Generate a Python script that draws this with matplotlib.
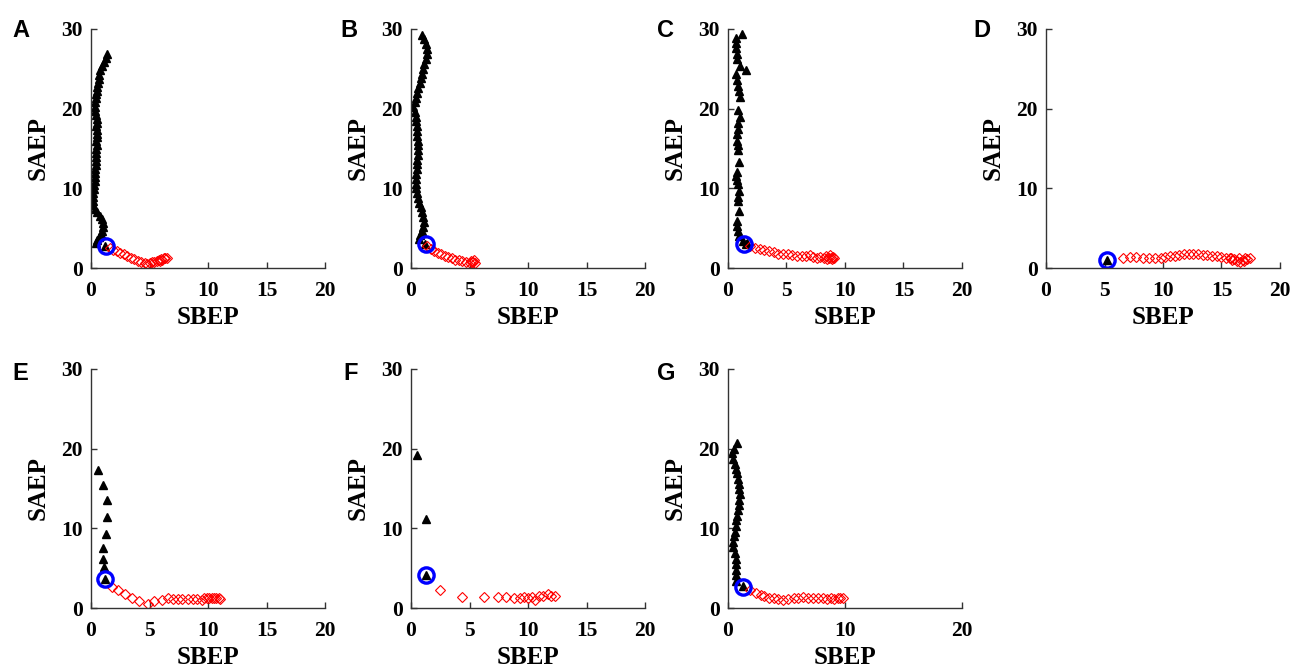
import matplotlib
matplotlib.use("Agg")
from matplotlib import pyplot as plt

# panel letters
labels = ["A", "B", "C", "D", "E", "F", "G"]

# black triangles (SBEP, SAEP)
A_bx = [1.4, 1.25, 1.1, 0.9, 0.8, 0.72, 0.65, 0.6, 0.55, 0.5, 0.45, 0.4, 0.35, 0.3, 0.32, 0.4, 0.48, 0.5, 0.45, 0.52, 0.55, 0.5, 0.45, 0.5, 0.45, 0.4, 0.42, 0.45, 0.4, 0.35, 0.33, 0.3, 0.3, 0.25, 0.22, 0.2, 0.15, 0.14, 0.2, 0.35, 0.5, 0.75, 0.92, 1.0, 1.05, 0.95, 0.85, 0.7, 0.55, 0.45, 1.2]
A_by = [26.8, 26.4, 25.9, 25.3, 24.8, 24.2, 23.7, 23.2, 22.7, 22.2, 21.8, 21.3, 20.8, 20.2, 19.7, 19.2, 18.7, 18.2, 17.8, 17.3, 16.8, 16.4, 15.9, 15.4, 14.9, 14.4, 13.9, 13.4, 12.9, 12.4, 11.9, 11.4, 10.9, 10.4, 9.9, 9.4, 8.9, 8.4, 7.9, 7.4, 7.0, 6.5, 6.1, 5.6, 5.1, 4.7, 4.3, 3.9, 3.5, 3.2, 2.8]
B_bx = [0.9, 1.1, 1.3, 1.4, 1.35, 1.25, 1.15, 1.05, 0.95, 0.85, 0.75, 0.6, 0.5, 0.4, 0.3, 0.2, 0.3, 0.4, 0.45, 0.5, 0.5, 0.55, 0.6, 0.6, 0.62, 0.6, 0.55, 0.55, 0.5, 0.45, 0.4, 0.4, 0.45, 0.55, 0.6, 0.7, 0.85, 0.95, 1.05, 1.1, 1.05, 0.95, 0.8, 0.7, 1.2]
B_by = [29.2, 28.7, 28.1, 27.5, 26.9, 26.2, 25.6, 25.0, 24.4, 23.8, 23.2, 22.6, 22.0, 21.4, 20.8, 20.2, 19.6, 19.0, 18.4, 17.8, 17.2, 16.6, 16.0, 15.4, 14.8, 14.2, 13.6, 13.0, 12.4, 11.8, 11.2, 10.6, 10.0, 9.4, 8.8, 8.2, 7.6, 7.0, 6.4, 5.8, 5.2, 4.6, 4.1, 3.6, 3.0]
C_bx = [1.23, 0.71, 0.66, 0.66, 0.77, 0.77, 1.0, 1.57, 0.71, 0.8, 0.86, 0.9, 1.0, 0.86, 1.0, 0.86, 0.86, 0.8, 0.77, 0.86, 0.86, 0.94, 0.8, 0.71, 0.8, 0.86, 0.94, 0.86, 0.86, 0.94, 0.77, 0.8, 0.86, 0.9, 1.29, 1.5, 1.6]
C_by = [29.4, 28.9, 28.2, 27.6, 26.8, 26.2, 25.3, 24.8, 24.3, 23.6, 22.8, 22.2, 21.5, 19.8, 19.0, 18.2, 17.5, 16.8, 16.0, 15.4, 14.8, 13.3, 12.1, 11.6, 11.0, 10.5, 9.7, 8.9, 8.4, 7.2, 5.9, 5.3, 4.6, 4.0, 3.4, 3.0, 3.1]
D_bx = [5.2]
D_by = [0.96]
E_bx = [0.57, 1.0, 1.34, 1.34, 1.29, 1.0, 1.0, 1.1, 1.2]
E_by = [17.3, 15.5, 13.6, 11.4, 9.3, 7.5, 6.1, 5.1, 3.6]
F_bx = [0.52, 1.32, 1.32]
F_by = [19.2, 11.2, 4.1]
G_bx = [0.77, 0.55, 0.37, 0.45, 0.57, 0.67, 0.77, 0.85, 0.94, 0.98, 1.0, 0.95, 0.9, 0.86, 0.8, 0.71, 0.65, 0.57, 0.5, 0.43, 0.45, 0.57, 0.65, 0.71, 0.7, 0.68, 0.66, 1.29]
G_by = [20.7, 20.0, 19.4, 18.7, 18.1, 17.5, 16.9, 16.2, 15.6, 14.9, 14.3, 13.5, 12.9, 12.3, 11.6, 11.0, 10.3, 9.6, 9.0, 8.3, 7.6, 6.9, 6.2, 5.5, 4.8, 4.1, 3.4, 2.7]

# red diamonds
A_rx = [1.6, 1.9, 2.2, 2.5, 2.8, 3.1, 3.4, 3.7, 4.0, 4.3, 4.6, 4.8, 5.0, 5.2, 5.4, 5.6, 5.8, 6.0, 6.2, 6.3, 6.5, 6.1, 5.9]
A_ry = [2.5, 2.3, 2.1, 1.9, 1.7, 1.5, 1.3, 1.1, 0.9, 0.8, 0.6, 0.5, 0.6, 0.7, 0.8, 0.9, 1.0, 1.1, 1.2, 1.3, 1.2, 1.0, 0.9]
B_rx = [1.4, 1.7, 2.0, 2.3, 2.6, 2.9, 3.2, 3.5, 3.8, 4.1, 4.4, 4.7, 5.0, 5.1, 5.3, 5.5, 5.2, 5.4]
B_ry = [2.7, 2.4, 2.1, 1.9, 1.7, 1.5, 1.35, 1.2, 1.05, 0.95, 0.85, 0.7, 0.65, 0.9, 0.8, 0.65, 0.7, 1.0]
C_rx = [1.9, 2.3, 2.7, 3.1, 3.5, 3.9, 4.3, 4.7, 5.1, 5.5, 5.9, 6.3, 6.7, 7.0, 7.3, 7.6, 7.9, 8.2, 8.4, 8.6, 8.7, 8.8, 8.9, 9.0, 9.1, 8.5]
C_ry = [2.7, 2.5, 2.4, 2.3, 2.1, 2.0, 1.8, 1.75, 1.7, 1.6, 1.55, 1.5, 1.45, 1.6, 1.4, 1.2, 1.35, 1.3, 1.5, 1.2, 1.6, 1.3, 1.1, 1.4, 1.2, 1.1]
D_rx = [6.6, 7.2, 7.7, 8.3, 8.8, 9.3, 9.8, 10.2, 10.6, 11.0, 11.4, 11.8, 12.2, 12.6, 13.0, 13.4, 13.8, 14.2, 14.6, 15.0, 15.4, 15.7, 15.9, 16.1, 16.3, 16.5, 16.6, 16.8, 17.0, 17.2, 17.4, 16.9, 15.8]
D_ry = [1.25, 1.35, 1.4, 1.3, 1.2, 1.2, 1.3, 1.4, 1.5, 1.55, 1.65, 1.7, 1.7, 1.75, 1.7, 1.65, 1.6, 1.55, 1.5, 1.4, 1.3, 1.2, 1.0, 1.1, 0.9, 1.2, 0.8, 1.0, 1.3, 1.1, 1.3, 0.9, 1.3]
E_rx = [1.77, 2.34, 2.9, 3.5, 4.1, 4.9, 5.4, 6.06, 6.6, 7.0, 7.4, 7.8, 8.3, 8.7, 9.1, 9.5, 9.7, 9.9, 10.1, 10.3, 10.5, 10.7, 10.9, 11.0]
E_ry = [2.6, 2.2, 1.8, 1.3, 0.84, 0.5, 0.84, 1.05, 1.2, 1.15, 1.1, 1.1, 1.14, 1.14, 1.1, 1.05, 1.2, 1.2, 1.25, 1.2, 1.25, 1.2, 1.2, 1.15]
F_rx = [2.5, 4.4, 6.2, 7.4, 8.1, 8.8, 9.3, 9.7, 10.0, 10.3, 10.6, 10.9, 11.3, 11.7, 12.0, 12.3]
F_ry = [2.2, 1.35, 1.35, 1.35, 1.35, 1.27, 1.2, 1.35, 1.2, 1.35, 1.05, 1.5, 1.5, 1.7, 1.5, 1.5]
G_rx = [1.9, 2.4, 2.8, 3.1, 3.5, 3.9, 4.3, 4.7, 5.1, 5.6, 6.0, 6.4, 6.8, 7.3, 7.7, 8.1, 8.5, 8.8, 9.1, 9.4, 9.6, 9.8]
G_ry = [2.3, 1.9, 1.65, 1.5, 1.3, 1.2, 1.1, 1.05, 1.1, 1.2, 1.3, 1.35, 1.3, 1.27, 1.2, 1.2, 1.15, 1.2, 1.15, 1.2, 1.2, 1.25]

# blue circles
circ_x = [1.3, 1.26, 1.37, 5.2, 1.2, 1.32, 1.31]
circ_y = [2.7, 2.95, 3.0, 0.96, 3.7, 4.1, 2.66]

black = [(A_bx, A_by), (B_bx, B_by), (C_bx, C_by), (D_bx, D_by), (E_bx, E_by), (F_bx, F_by), (G_bx, G_by)]
red = [(A_rx, A_ry), (B_rx, B_ry), (C_rx, C_ry), (D_rx, D_ry), (E_rx, E_ry), (F_rx, F_ry), (G_rx, G_ry)]

W, H = 1294, 671
fig = plt.figure(figsize=(W / 100, H / 100), dpi=100)

lefts = [91, 411, 728, 1046, 91, 411, 728]
bottoms = [268, 268, 268, 268, 608, 608, 608]
letter_x = [12, 340, 657, 973, 12, 343, 657]
letter_y = [19, 19, 19, 19, 362, 362, 362]

serif = "Liberation Serif"
for i in range(7):
    ax = fig.add_axes([lefts[i] / W, (H - bottoms[i]) / H, 234 / W, 239 / H])
    bx, by = black[i]
    rx, ry = red[i]
    ax.plot(bx, by, "^", color="black", ms=6, mec="black", ls="none")
    ax.plot(rx, ry, "D", mfc="none", mec="red", ms=4.8, mew=0.8, ls="none")
    ax.plot(circ_x[i], circ_y[i], "o", mfc="none", mec="blue", ms=11, mew=2.4)
    ax.set_xlim(0, 20)
    ax.set_ylim(0, 30)
    if i == 6:
        ax.set_xticks([0, 10, 20])
    else:
        ax.set_xticks([0, 5, 10, 15, 20])
    ax.set_yticks([0, 10, 20, 30])
    ax.spines["top"].set_visible(False)
    ax.spines["right"].set_visible(False)
    for s in ["left", "bottom"]:
        ax.spines[s].set_color("#333333")
        ax.spines[s].set_linewidth(1.0)
    ax.tick_params(direction="in", length=4, width=1, colors="#333333")
    ax.tick_params(axis="x", pad=9)
    ax.tick_params(axis="y", pad=6)
    for t in ax.get_xticklabels() + ax.get_yticklabels():
        t.set_fontfamily(serif)
        t.set_fontweight("bold")
        t.set_fontsize(15.5)
        t.set_color("black")
    ax.set_xlabel("SBEP", fontfamily=serif, fontweight="bold", fontsize=18, labelpad=4)
    ax.set_ylabel("SAEP", fontfamily=serif, fontweight="bold", fontsize=18, labelpad=8)
    fig.text(letter_x[i] / W, 1 - letter_y[i] / H, labels[i], ha="left", va="top",
             fontfamily="Liberation Sans", fontweight="bold", fontsize=17)

fig.savefig("out.png", dpi=100)
